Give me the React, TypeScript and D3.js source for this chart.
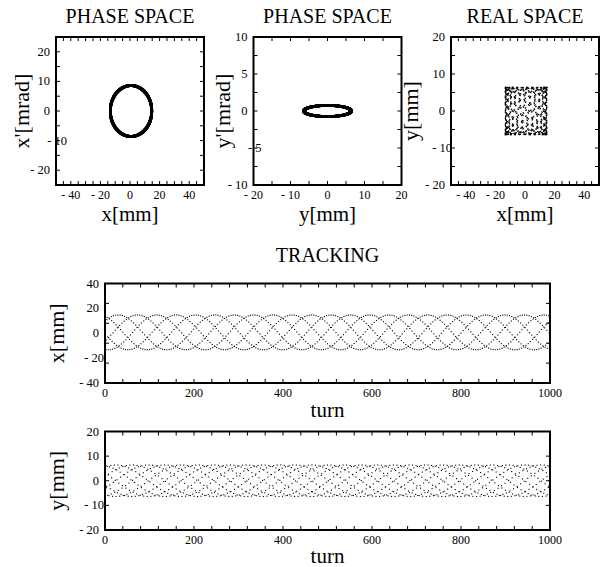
import React, { useEffect, useRef } from "react";
import * as d3 from "d3";

// beam parameters
const xAmp = [14, 8.6]; // x [mm], x' [mrad] half widths
const yAmp = [6.4, 0.75]; // y [mm], y' [mrad] half widths
const orbit = [0.7, 0]; // closed orbit x, y [mm]
const tunes = [0.2046, 0.3716]; // fractional tunes Qx, Qy
const phase0 = [0.4, 1.3];
const nTurns = 1000;

// axis ticks
const phaseXTicks = [-40, -20, 0, 20, 40];
const phaseXpTicks = [-20, -10, 0, 10, 20];
const phaseYTicks = [-20, -10, 0, 10, 20];
const phaseYpTicks = [-10, -5, 0, 5, 10];
const realYTicks = [-20, -10, 0, 10, 20];
const turnTicks = [0, 200, 400, 600, 800, 1000];
const trackXTicks = [-40, -20, 0, 20, 40];
const trackYTicks = [-20, -10, 0, 10, 20];

type Pt = [number, number];

function track() {
  const x: number[] = [], xp: number[] = [], y: number[] = [], yp: number[] = [];
  // one-turn map = rotation in normalised phase space
  let ux = Math.cos(phase0[0]), vx = Math.sin(phase0[0]);
  let uy = Math.cos(phase0[1]), vy = Math.sin(phase0[1]);
  const cx = Math.cos(2 * Math.PI * tunes[0]), sx = Math.sin(2 * Math.PI * tunes[0]);
  const cy = Math.cos(2 * Math.PI * tunes[1]), sy = Math.sin(2 * Math.PI * tunes[1]);
  for (let n = 0; n <= nTurns; n++) {
    x.push(orbit[0] + xAmp[0] * ux);
    xp.push(-xAmp[1] * vx);
    y.push(orbit[1] + yAmp[0] * uy);
    yp.push(-yAmp[1] * vy);
    [ux, vx] = [cx * ux - sx * vx, sx * ux + cx * vx];
    [uy, vy] = [cy * uy - sy * vy, sy * uy + cy * vy];
  }
  return { x, xp, y, yp };
}

const fmt = (v: number) => (v < 0 ? `- ${Math.abs(v)}` : `${v}`);
const serif = "'Liberation Serif', 'Times New Roman', serif";

interface PanelOpts {
  left: number;
  top: number;
  width: number;
  height: number;
  xDomain: [number, number];
  yDomain: [number, number];
  xTicks: number[];
  yTicks: number[];
  xMinor: number;
  yMinor: number;
  xLabel: string;
  yLabel: string;
  yLabelX: number;
  xLabelY: number;
  shift?: [number, number]; // misplaced tick label: value, dx
  points: Pt[];
  dot: number;
}

function drawPanel(svg: d3.Selection<SVGSVGElement, unknown, null, undefined>, o: PanelOpts) {
  const x = d3.scaleLinear().domain(o.xDomain).range([o.left, o.left + o.width]);
  const y = d3.scaleLinear().domain(o.yDomain).range([o.top + o.height, o.top]);
  const g = svg.append("g").attr("font-family", serif);
  const tick = 4;

  g.append("g")
    .selectAll("rect")
    .data(o.points)
    .join("rect")
    .attr("x", (d) => x(d[0]) - o.dot / 2)
    .attr("y", (d) => y(d[1]) - o.dot / 2)
    .attr("width", o.dot)
    .attr("height", o.dot)
    .attr("fill", "#000");

  const eps = 1e-9;
  const xm = d3.range(o.xDomain[0], o.xDomain[1] + eps, o.xMinor);
  const ym = d3.range(o.yDomain[0], o.yDomain[1] + eps, o.yMinor);
  const ticks = g.append("g").attr("stroke", "#000").attr("stroke-width", 1);
  xm.forEach((v) => {
    ticks.append("line").attr("x1", x(v)).attr("x2", x(v)).attr("y1", o.top + o.height).attr("y2", o.top + o.height - tick);
    ticks.append("line").attr("x1", x(v)).attr("x2", x(v)).attr("y1", o.top).attr("y2", o.top + tick);
  });
  ym.forEach((v) => {
    ticks.append("line").attr("x1", o.left).attr("x2", o.left + tick).attr("y1", y(v)).attr("y2", y(v));
    ticks.append("line").attr("x1", o.left + o.width).attr("x2", o.left + o.width - tick).attr("y1", y(v)).attr("y2", y(v));
  });

  g.append("rect")
    .attr("x", o.left)
    .attr("y", o.top)
    .attr("width", o.width)
    .attr("height", o.height)
    .attr("fill", "none")
    .attr("stroke", "#000")
    .attr("stroke-width", 2);

  g.append("g")
    .selectAll("text")
    .data(o.xTicks)
    .join("text")
    .attr("x", (d) => x(d))
    .attr("y", o.top + o.height + 13.5)
    .attr("text-anchor", "middle")
    .style("font-size", "12px")
    .text(fmt);

  g.append("g")
    .selectAll("text")
    .data(o.yTicks)
    .join("text")
    .attr("x", (d) => o.left - 6 + (o.shift && o.shift[0] === d ? o.shift[1] : 0))
    .attr("y", (d) => y(d) + 4)
    .attr("text-anchor", "end")
    .attr("fill", "#000")
    .style("font-size", "12.5px")
    .text(fmt);

  g.append("text")
    .attr("x", o.left + o.width / 2)
    .attr("y", o.xLabelY)
    .attr("text-anchor", "middle")
    .style("font-size", "21px")
    .text(o.xLabel);

  g.append("text")
    .attr("transform", `translate(${o.yLabelX},${o.top + o.height / 2}) rotate(-90)`)
    .attr("text-anchor", "middle")
    .style("font-size", "22px")
    .text(o.yLabel);
}

export default function App() {
  const ref = useRef<SVGSVGElement>(null);

  useEffect(() => {
    const svg = d3.select(ref.current!);
    svg.selectAll("*").remove();
    const t = track();
    const idx = d3.range(t.x.length);
    const size = 148;
    const top = 37;

    const titles = ["PHASE SPACE", "PHASE SPACE", "REAL SPACE"];
    const lefts = [56, 253.5, 451];
    titles.forEach((s, i) =>
      svg.append("text")
        .attr("x", lefts[i] + size / 2)
        .attr("y", 23)
        .attr("text-anchor", "middle")
        .attr("font-family", serif)
        .style("font-size", "20px")
        .text(s)
    );

    drawPanel(svg, {
      left: lefts[0], top, width: size, height: size,
      xDomain: [-50, 50], yDomain: [-25, 25],
      xTicks: phaseXTicks, yTicks: phaseXpTicks, xMinor: 5, yMinor: 5,
      xLabel: "x[mm]", yLabel: "x'[mrad]", yLabelX: 29, xLabelY: 221,
      shift: [-10, 17],
      points: idx.map((i) => [t.x[i], t.xp[i]] as Pt), dot: 2.6,
    });
    drawPanel(svg, {
      left: lefts[1], top, width: size, height: size,
      xDomain: [-20, 20], yDomain: [-10, 10],
      xTicks: phaseYTicks, yTicks: phaseYpTicks, xMinor: 5, yMinor: 2.5,
      xLabel: "y[mm]", yLabel: "y'[mrad]", yLabelX: 230, xLabelY: 221,
      shift: [-5, 14],
      points: idx.map((i) => [t.y[i], t.yp[i]] as Pt), dot: 2.6,
    });
    drawPanel(svg, {
      left: lefts[2], top, width: size, height: size,
      xDomain: [-50, 50], yDomain: [-20, 20],
      xTicks: phaseXTicks, yTicks: realYTicks, xMinor: 5, yMinor: 5,
      xLabel: "x[mm]", yLabel: "y[mm]", yLabelX: 418, xLabelY: 221,
      shift: [-10, 7],
      points: idx.map((i) => [t.x[i], t.y[i]] as Pt), dot: 1.1,
    });

    svg.append("text")
      .attr("x", 327.5)
      .attr("y", 262)
      .attr("text-anchor", "middle")
      .attr("font-family", serif)
      .style("font-size", "20px")
      .text("TRACKING");

    drawPanel(svg, {
      left: 105, top: 283.5, width: 445, height: 99.5,
      xDomain: [0, 1000], yDomain: [-40, 40],
      xTicks: turnTicks, yTicks: trackXTicks, xMinor: 40, yMinor: 16,
      xLabel: "turn", yLabel: "x[mm]", yLabelX: 64, xLabelY: 417,
      shift: [-20, 5],
      points: idx.map((i) => [i, t.x[i]] as Pt), dot: 1.1,
    });
    drawPanel(svg, {
      left: 105, top: 431.5, width: 445, height: 98.5,
      xDomain: [0, 1000], yDomain: [-20, 20],
      xTicks: turnTicks, yTicks: trackYTicks, xMinor: 40, yMinor: 10,
      xLabel: "turn", yLabel: "y[mm]", yLabelX: 64, xLabelY: 563,
      shift: [-10, 5],
      points: idx.map((i) => [i, t.y[i]] as Pt), dot: 1.1,
    });
  }, []);

  return (
    <svg
      ref={ref}
      width={602}
      height={567}
      style={{ position: "absolute", left: 0, top: 0, background: "#fff", fontFamily: serif }}
    />
  );
}
